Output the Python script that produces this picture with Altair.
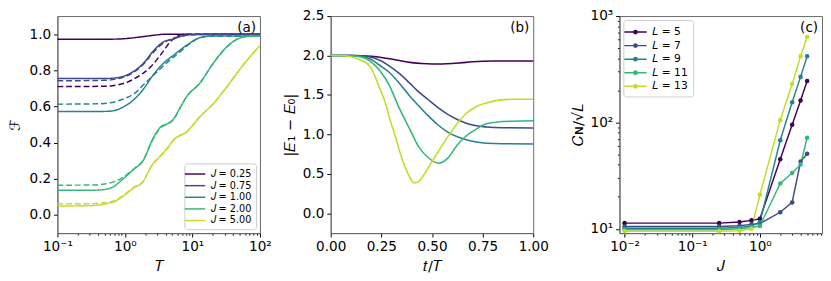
import altair as alt
import pandas as pd

# ---------------- data ----------------
J_LABELS = ["𝐽 = 0.25", "𝐽 = 0.75", "𝐽 = 1.00", "𝐽 = 2.00", "𝐽 = 5.00"]
L_LABELS = ["𝐿 = 5", "𝐿 = 7", "𝐿 = 9", "𝐿 = 11", "𝐿 = 13"]
COLORS = ["#440154", "#3e4a89", "#26828e", "#35b779", "#bddf26"]

# panel (a): fidelity vs T (solid and dashed)
a_solid = {
    0: ([0.1, 0.5, 0.8, 1.2, 2, 3, 4, 6, 10, 100],
        [0.972, 0.972, 0.973, 0.978, 0.988, 0.996, 1.0, 1.0, 1.0, 1.0]),
    1: ([0.1, 0.5, 0.73, 1.0, 1.42, 2.0, 2.5, 3.85, 5, 7, 10, 100],
        [0.755, 0.755, 0.758, 0.77, 0.80, 0.85, 0.897, 0.96, 0.97, 0.99, 0.997, 1.0]),
    2: ([0.1, 0.5, 0.66, 0.92, 1.42, 2.0, 2.5, 3.85, 5.3, 8.3, 12.8, 20, 100],
        [0.572, 0.573, 0.576, 0.595, 0.645, 0.71, 0.764, 0.844, 0.885, 0.94, 0.98, 0.99, 0.99]),
    3: ([0.1, 0.3, 0.47, 0.7, 0.91, 1.4, 1.8, 2.7, 3.4, 4.3, 5.3, 6.6, 8.3, 12.8, 20, 31, 49, 76, 100],
        [0.137, 0.137, 0.14, 0.16, 0.195, 0.258, 0.293, 0.435, 0.488, 0.506, 0.533, 0.595, 0.657,
         0.728, 0.835, 0.923, 0.977, 0.99, 0.99]),
    4: ([0.1, 0.3, 0.47, 0.7, 0.91, 1.4, 1.8, 2.5, 3.4, 4.3, 5.3, 8.3, 12.8, 20, 31, 49, 76, 100],
        [0.05, 0.052, 0.059, 0.075, 0.10, 0.155, 0.178, 0.275, 0.33, 0.373, 0.417, 0.462, 0.542,
         0.613, 0.70, 0.80, 0.888, 0.936]),
}
a_dashed = {
    0: ([0.1, 0.5, 0.8, 1.0, 1.4, 2.5, 3.85, 4.5, 6, 8, 100],
        [0.71, 0.712, 0.72, 0.73, 0.755, 0.826, 0.915, 0.95, 0.99, 1.0, 1.0]),
    1: ([0.1, 0.5, 0.8, 1.0, 1.42, 2.0, 2.5, 3.85, 5, 7, 10, 100],
        [0.742, 0.745, 0.755, 0.765, 0.795, 0.845, 0.89, 0.955, 0.975, 0.99, 0.997, 1.0]),
    2: ([0.1, 0.4, 0.7, 0.92, 1.42, 2.0, 2.5, 3.85, 4.8, 6, 8.3, 12.8, 20, 100],
        [0.613, 0.615, 0.625, 0.64, 0.675, 0.73, 0.764, 0.83, 0.862, 0.89, 0.935, 0.98, 0.99, 0.99]),
    3: ([0.1, 0.3, 0.5, 0.7, 0.91, 1.4, 1.8, 2.7, 3.4, 4.3, 5.3, 6.6, 8.3, 12.8, 20, 31, 49, 76, 100],
        [0.165, 0.166, 0.172, 0.185, 0.205, 0.26, 0.295, 0.43, 0.483, 0.503, 0.53, 0.595, 0.657,
         0.728, 0.835, 0.923, 0.977, 0.99, 0.99]),
    4: ([0.1, 0.3, 0.5, 0.7, 0.91, 1.4, 1.8, 2.5, 3.4, 4.3, 5.3, 8.3, 12.8, 20, 31, 49, 76, 100],
        [0.062, 0.063, 0.068, 0.08, 0.105, 0.157, 0.18, 0.272, 0.327, 0.37, 0.415, 0.462, 0.542,
         0.613, 0.70, 0.80, 0.888, 0.936]),
}

# panel (b): gap |E1 - E0| vs t/T
b_curves = {
    0: ([0, 0.1, 0.15, 0.2, 0.25, 0.3, 0.35, 0.4, 0.45, 0.5, 0.55, 0.6, 0.65, 0.7, 0.75, 0.8, 0.9, 1.0],
        [2.0, 2.0, 1.998, 1.99, 1.976, 1.955, 1.93, 1.91, 1.898, 1.893, 1.894, 1.90, 1.91, 1.92,
         1.927, 1.93, 1.932, 1.932]),
    1: ([0, 0.1, 0.15, 0.195, 0.25, 0.29, 0.34, 0.386, 0.43, 0.482, 0.53, 0.578, 0.625, 0.673,
         0.72, 0.769, 0.85, 1.0],
        [2.0, 2.0, 1.997, 1.98, 1.93, 1.867, 1.77, 1.66, 1.55, 1.44, 1.34, 1.255, 1.19, 1.14,
         1.11, 1.095, 1.085, 1.083]),
    2: ([0, 0.1, 0.15, 0.195, 0.24, 0.29, 0.34, 0.386, 0.434, 0.482, 0.53, 0.578, 0.625, 0.673,
         0.72, 0.769, 0.85, 1.0],
        [2.0, 2.0, 1.99, 1.956, 1.88, 1.785, 1.645, 1.50, 1.365, 1.235, 1.12, 1.03, 0.97, 0.93,
         0.905, 0.889, 0.882, 0.88]),
    3: ([0, 0.1, 0.15, 0.195, 0.243, 0.29, 0.338, 0.386, 0.434, 0.482, 0.533, 0.578, 0.625,
         0.673, 0.72, 0.769, 0.83, 0.9, 1.0],
        [2.0, 1.998, 1.98, 1.93, 1.806, 1.62, 1.336, 1.09, 0.847, 0.705, 0.636, 0.70, 0.868,
         0.99, 1.07, 1.135, 1.16, 1.168, 1.173]),
    4: ([0, 0.05, 0.1, 0.15, 0.195, 0.243, 0.27, 0.29, 0.315, 0.338, 0.362, 0.386, 0.405, 0.418,
         0.432, 0.45, 0.482, 0.53, 0.578, 0.625, 0.673, 0.72, 0.769, 0.83, 0.9, 1.0],
        [2.0, 2.0, 1.985, 1.94, 1.86, 1.58, 1.40, 1.21, 1.01, 0.807, 0.62, 0.48, 0.40, 0.387,
         0.40, 0.45, 0.583, 0.78, 0.97, 1.14, 1.275, 1.355, 1.40, 1.435, 1.445, 1.446]),
}

# panel (c): C_N / sqrt(L) vs J
c_J = [0.01, 0.25, 0.5, 0.75, 1.0, 2.0, 3.0, 4.0, 5.0]
c_vals = {
    0: [11.3, 11.3, 11.6, 12.0, 12.4, 45, 95, 161, 245],
    1: [10.5, 10.5, 10.7, 11.0, 11.2, 14.3, 17.7, 42.9, 50.7],
    2: [10.1, 10.1, 10.3, 10.6, 11.5, 68, 155, 268, 419],
    3: [9.8, 9.8, 10.0, 10.3, 10.6, 26.7, 33.4, 40.3, 71.8],
    4: [9.5, 9.5, 9.6, 10.0, 20.9, 105, 230, 419, 635],
}

A_X_TICKS = [0.1, 0.2, 0.3, 0.4, 0.5, 0.6, 0.7, 0.8, 0.9, 1, 2, 3, 4, 5, 6, 7, 8, 9,
             10, 20, 30, 40, 50, 60, 70, 80, 90, 100]
A_Y_TICKS = [0.0, 0.2, 0.4, 0.6, 0.8, 1.0]
B_X_TICKS = [0.0, 0.25, 0.5, 0.75, 1.0]
B_Y_TICKS = [0.0, 0.5, 1.0, 1.5, 2.0, 2.5]
C_X_TICKS = [0.01, 0.02, 0.03, 0.04, 0.05, 0.06, 0.07, 0.08, 0.09, 0.1, 0.2, 0.3, 0.4,
             0.5, 0.6, 0.7, 0.8, 0.9, 1, 2, 3, 4, 5, 6, 7, 8]
C_Y_TICKS = [10, 20, 30, 40, 50, 60, 70, 80, 90, 100, 200, 300, 400, 500, 600, 700, 800,
             900, 1000]

# ---------------- tables ----------------
rows = []
for k in range(5):
    for style, src in (("solid", a_solid), ("dashed", a_dashed)):
        xs, ys = src[k]
        for x, y in zip(xs, ys):
            rows.append({"T": x, "F": y, "J": J_LABELS[k], "style": style, "sid": f"{k}{style}"})
df_a = pd.DataFrame(rows)

rows = []
for k in range(5):
    xs, ys = b_curves[k]
    for x, y in zip(xs, ys):
        rows.append({"t": x, "gap": y, "Jb": J_LABELS[k]})
df_b = pd.DataFrame(rows)

rows = []
for k in range(5):
    for x, y in zip(c_J, c_vals[k]):
        rows.append({"Jv": x, "C": y, "L": L_LABELS[k]})
df_c = pd.DataFrame(rows)

W, H = 209, 224
FONT = "DejaVu Sans"

LOGV = "(log(datum.value)/LN10)"
MAJOR = f"abs({LOGV} - round({LOGV})) < 0.001"
SUP = (f"(round({LOGV})==-2?'⁻²':round({LOGV})==-1?'⁻¹':round({LOGV})==0?'⁰':"
       f"round({LOGV})==1?'¹':round({LOGV})==2?'²':'³')")
LOG_LABEL = f"({MAJOR}) ? ('10' + {SUP}) : ''"
TICK_SIZE = {"condition": {"test": MAJOR, "value": 4}, "value": 2}
XT_PAD = 6


def log_axis(values, title, **kw):
    return alt.Axis(values=values, labelExpr=LOG_LABEL, tickSize=TICK_SIZE,
                    title=title, labelOverlap=False, labelFlush=False, **kw)


def panel_label(text, chart_w):
    return alt.Chart(pd.DataFrame({"lab": [text]})).mark_text(
        font=FONT, fontSize=14, align="right", baseline="alphabetic"
    ).encode(x=alt.value(chart_w - 4), y=alt.value(16), text="lab:N")


color_a = alt.Color("J:N", scale=alt.Scale(domain=J_LABELS, range=COLORS),
                    legend=alt.Legend(orient="bottom-right", title=None, offset=4,
                                      symbolType="M-1.75,0H1.75", symbolSize=144,
                                      symbolStrokeWidth=1.5, labelFontSize=10,
                                      labelFont=FONT, rowPadding=0, padding=4,
                                      labelOffset=9,
                                      fillColor="white", strokeColor="#cccccc",
                                      cornerRadius=3))

lines_a = alt.Chart(df_a).mark_line(strokeWidth=1.5, interpolate="monotone").encode(
    x=alt.X("T:Q", scale=alt.Scale(type="log", domain=[0.1, 100], nice=False),
            axis=log_axis(A_X_TICKS, "𝑇", titlePadding=XT_PAD)),
    y=alt.Y("F:Q", scale=alt.Scale(domain=[-0.1, 1.1], nice=False, zero=False),
            axis=alt.Axis(values=A_Y_TICKS, format=".1f", title="ℱ", titlePadding=7)),
    color=color_a,
    strokeDash=alt.StrokeDash("style:N", scale=alt.Scale(domain=["solid", "dashed"],
                                                          range=[[1, 0], [6, 3]]),
                              legend=None),
    detail="sid:N",
    order="T:Q",
)
pa = alt.layer(lines_a, panel_label("(a)", W)).properties(width=W, height=H)

lines_b = alt.Chart(df_b).mark_line(strokeWidth=1.6, interpolate="monotone").encode(
    x=alt.X("t:Q", scale=alt.Scale(domain=[0, 1], nice=False),
            axis=alt.Axis(values=B_X_TICKS, format=".2f", title="𝑡/𝑇", labelFlush=False,
                          titlePadding=XT_PAD)),
    y=alt.Y("gap:Q", scale=alt.Scale(domain=[-0.25, 2.5], nice=False, zero=False),
            axis=alt.Axis(values=B_Y_TICKS, format=".1f", title="|𝐸₁ − 𝐸₀|", titlePadding=5)),
    color=alt.Color("Jb:N", scale=alt.Scale(domain=J_LABELS, range=COLORS), legend=None),
    order="t:Q",
)
pb = alt.layer(lines_b, panel_label("(b)", W)).properties(width=W, height=H)

c_legend = alt.Legend(orient="top-left", title=None, offset=4,
                      symbolType=("M-1.77,0H1.77M-0.27,0A0.27,0.27,0,1,1,0.27,0A0.27,0.27,0,1,1,-0.27,0Z"
                                  "M-0.12,0A0.12,0.12,0,1,1,0.12,0A0.12,0.12,0,1,1,-0.12,0Z"),
                      symbolSize=169, symbolStrokeWidth=1.5, labelFontSize=11,
                      labelFont=FONT, rowPadding=1, padding=5, labelOffset=10,
                      fillColor="white", strokeColor="#cccccc", cornerRadius=3)
color_c = alt.Color("L:N", scale=alt.Scale(domain=L_LABELS, range=COLORS), legend=c_legend)
xc = alt.X("Jv:Q", scale=alt.Scale(type="log", domain=[0.0084, 8.3], nice=False),
           axis=log_axis(C_X_TICKS, "𝐽", titlePadding=XT_PAD))
yc = alt.Y("C:Q", scale=alt.Scale(type="log", domain=[9.1, 1000], nice=False),
           axis=log_axis(C_Y_TICKS, "𝐶ɴ/√𝐿", titlePadding=5))
lines_c = alt.Chart(df_c).mark_line(strokeWidth=1.5).encode(x=xc, y=yc, color=color_c, order="Jv:Q")
pts_c = alt.Chart(df_c).mark_circle(size=22, opacity=1).encode(x=xc, y=yc, color=color_c)
pc = alt.layer(lines_c, pts_c, panel_label("(c)", W)).properties(width=W, height=H)

inner = alt.hconcat(pa, pb, spacing=10).resolve_scale(
    color="independent").resolve_legend(color="independent")
chart = alt.hconcat(inner, pc, spacing=21).resolve_scale(
    color="independent").resolve_legend(color="independent").configure(
    padding={"left": -1, "top": -4, "right": 0, "bottom": 0}
).configure_axis(
    labelFont=FONT, labelFontSize=14, titleFont=FONT, titleFontSize=15,
    titleFontWeight="normal", labelColor="black", titleColor="black",
    tickColor="black", domainColor="#666666", grid=False, tickSize=4,
    labelPadding=3, ticks=True,
).configure_view(stroke="#666666", strokeWidth=1)

chart.save("out.html", embed_options={"renderer": "svg", "actions": False})
